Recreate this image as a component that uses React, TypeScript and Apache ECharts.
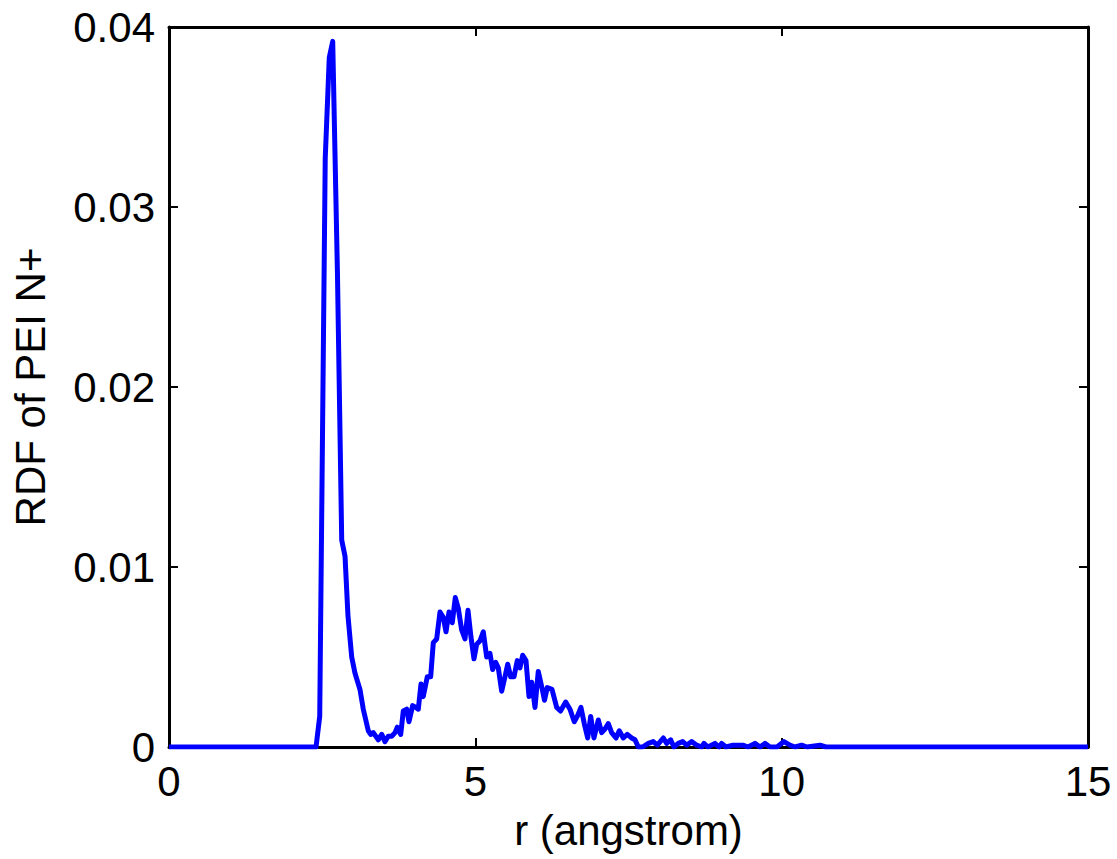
import React, { useEffect, useRef } from "react";
import * as echarts from "echarts";

// r (angstrom) sample positions
const rValues: number[] = [
  0, 2.4, 2.46, 2.55, 2.616, 2.672, 2.75, 2.819, 2.873, 2.921, 2.982, 3.036, 3.117, 3.171,
  3.253, 3.292, 3.334, 3.416, 3.472, 3.525, 3.579, 3.635, 3.689, 3.726, 3.782, 3.824, 3.88,
  3.917, 3.977, 4.031, 4.069, 4.113, 4.15, 4.216, 4.271, 4.314, 4.369, 4.423, 4.477, 4.521,
  4.57, 4.624, 4.673, 4.722, 4.777, 4.831, 4.88, 4.929, 4.978, 5.022, 5.076, 5.13, 5.185,
  5.239, 5.283, 5.332, 5.375, 5.43, 5.484, 5.528, 5.577, 5.631, 5.685, 5.729, 5.773, 5.827,
  5.876, 5.92, 5.974, 6.027, 6.08, 6.129, 6.174, 6.251, 6.328, 6.39, 6.475, 6.545, 6.615,
  6.664, 6.724, 6.778, 6.834, 6.883, 6.936, 7.007, 7.062, 7.116, 7.17, 7.225, 7.296, 7.349,
  7.415, 7.48, 7.552, 7.606, 7.66, 7.731, 7.823, 7.904, 7.97, 8.068, 8.123, 8.188, 8.242,
  8.312, 8.384, 8.45, 8.531, 8.613, 8.694, 8.732, 8.797, 8.911, 8.977, 9.02, 9.091, 9.205,
  9.287, 9.368, 9.45, 9.564, 9.646, 9.727, 9.809, 9.923, 10.037, 10.135, 10.217, 10.326,
  10.413, 10.625, 10.723, 15,
];

// RDF of PEI N+ values at those positions
const rdfValues: number[] = [
  0, 0, 0.0017, 0.0327, 0.0383, 0.0392, 0.0262, 0.0115, 0.0106, 0.0073, 0.005, 0.0041, 0.0032,
  0.0021, 0.0009, 0.0007, 0.0008, 0.0004, 0.0007, 0.0003, 0.0006, 0.0006, 0.0008, 0.0011,
  0.0007, 0.002, 0.0021, 0.0014, 0.0023, 0.0022, 0.0021, 0.0035, 0.0028, 0.0039, 0.0039,
  0.0058, 0.006, 0.0075, 0.0072, 0.0064, 0.0075, 0.0069, 0.0083, 0.0077, 0.0065, 0.006,
  0.0076, 0.0061, 0.0049, 0.0057, 0.0059, 0.0064, 0.005, 0.0052, 0.0043, 0.0047, 0.0044,
  0.0031, 0.0039, 0.0046, 0.0039, 0.0039, 0.0048, 0.0044, 0.0051, 0.0048, 0.0028, 0.0036,
  0.0022, 0.0042, 0.0034, 0.0026, 0.0033, 0.0032, 0.0022, 0.002, 0.0025, 0.0021, 0.0014,
  0.0017, 0.0022, 0.0013, 0.0005, 0.0017, 0.0005, 0.0015, 0.0008, 0.001, 0.0013, 0.0008,
  0.0005, 0.0009, 0.0005, 0.0007, 0.0005, 0.0004, 0, 0, 0.0002, 0.0003, 0.0001, 0.0005,
  0.0002, 0.0004, 0, 0.0002, 0.0003, 0.0001, 0.0003, 0.0001, 0, 0.0002, 0, 0.0002, 0,
  0.0002, 0, 0.0001, 0.0001, 0.0001, 0, 0.0002, 0, 0.0002, 0, 0, 0.0003, 0.0001, 0, 0.0001,
  0, 0.0001, 0, 0,
];

const xTicks: number[] = [0, 5, 10, 15];
const yTicks: number[] = [0, 0.01, 0.02, 0.03, 0.04];

const xTitle = "r (angstrom)";
const yTitle = "RDF of PEI N+";

export default function App() {
  const ref = useRef<HTMLDivElement>(null);

  useEffect(() => {
    if (!ref.current) return;
    const chart = echarts.init(ref.current, undefined, { renderer: "svg" });
    const font = "'Liberation Sans', Arial, Helvetica, sans-serif";
    const data = rValues.map((r, i) => [r, rdfValues[i]]);
    const axisLine = { show: true, onZero: false, lineStyle: { color: "#000", width: 3 } };
    const tick = { show: true, inside: true, length: 9, lineStyle: { color: "#000", width: 2 } };
    const xMin = xTicks[0];
    const xMax = xTicks[xTicks.length - 1];
    const xInt = xTicks[1] - xTicks[0];
    const yMin = yTicks[0];
    const yMax = yTicks[yTicks.length - 1];
    const yInt = yTicks[1] - yTicks[0];

    chart.setOption({
      animation: false,
      backgroundColor: "#fff",
      grid: { left: 169, top: 27, right: 29, bottom: 112, containLabel: false },
      xAxis: [
        {
          type: "value",
          min: xMin,
          max: xMax,
          interval: xInt,
          position: "bottom",
          name: xTitle,
          nameLocation: "middle",
          nameGap: 62,
          nameTextStyle: { fontFamily: font, fontSize: 42, color: "#000" },
          axisLine,
          axisTick: tick,
          splitLine: { show: false },
          axisLabel: { fontFamily: font, fontSize: 42, color: "#000", margin: 13 },
        },
        {
          type: "value",
          min: xMin,
          max: xMax,
          interval: xInt,
          position: "top",
          axisLine,
          axisTick: tick,
          splitLine: { show: false },
          axisLabel: { show: false },
        },
      ],
      yAxis: [
        {
          type: "value",
          min: yMin,
          max: yMax,
          interval: yInt,
          position: "left",
          name: yTitle,
          nameLocation: "middle",
          nameGap: 118,
          nameRotate: 90,
          nameTextStyle: { fontFamily: font, fontSize: 42, color: "#000" },
          axisLine,
          axisTick: tick,
          splitLine: { show: false },
          axisLabel: { fontFamily: font, fontSize: 42, color: "#000", margin: 14 },
        },
        {
          type: "value",
          min: yMin,
          max: yMax,
          interval: yInt,
          position: "right",
          axisLine,
          axisTick: tick,
          splitLine: { show: false },
          axisLabel: { show: false },
        },
      ],
      series: [
        {
          type: "line",
          data,
          showSymbol: false,
          symbol: "none",
          lineStyle: { color: "#0000ff", width: 5, join: "round" },
          xAxisIndex: 0,
          yAxisIndex: 0,
          z: 1,
        },
      ],
    });
    return () => chart.dispose();
  }, []);

  return (
    <div
      ref={ref}
      style={{ position: "fixed", left: 0, top: 0, width: 1117, height: 859, background: "#fff" }}
    />
  );
}
